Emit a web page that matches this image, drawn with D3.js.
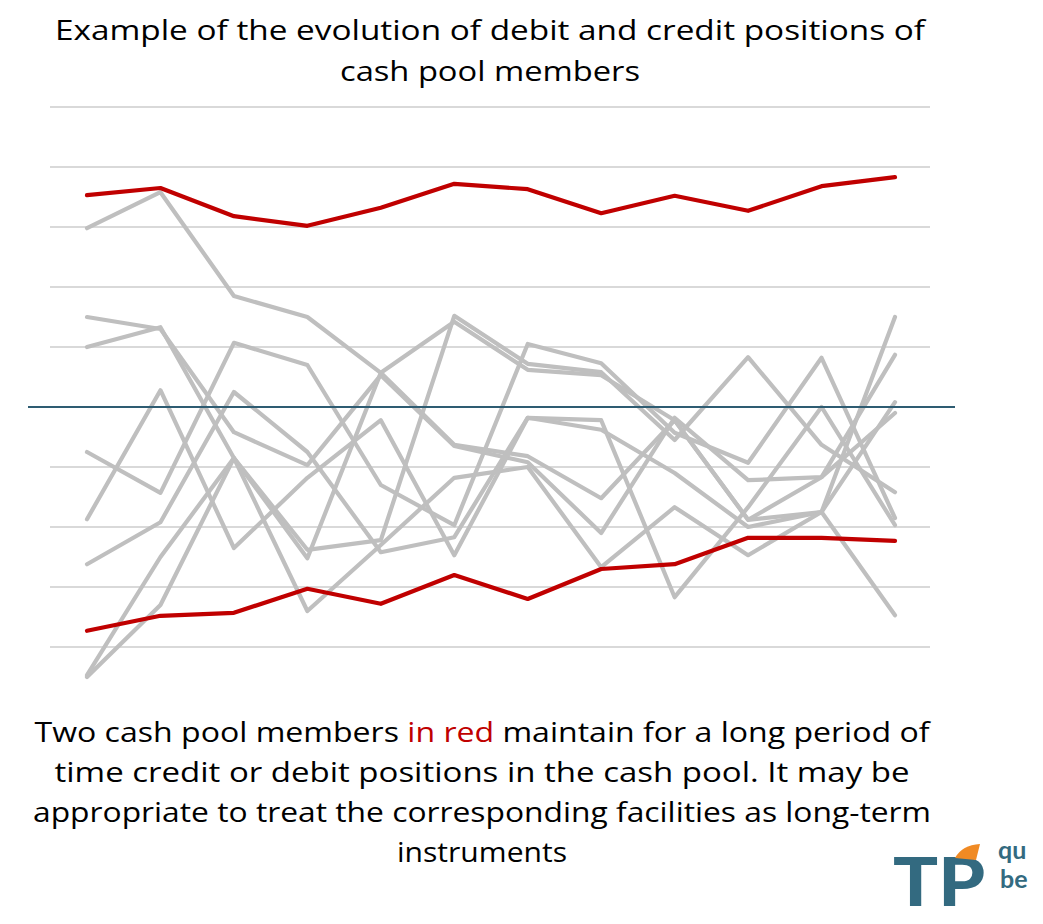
<!DOCTYPE html>
<html><head><meta charset="utf-8">
<script src="https://cdn.jsdelivr.net/npm/d3@7"></script>
<style>body{margin:0;background:#fff}</style></head>
<body><svg id="c" width="1043" height="924"></svg>
<script>
const periods = d3.range(1, 13);
const gridTicks = [-4,-3,-2,-1,1,2,3,4,5];
const redTop = [3.53,3.65,3.18,3.02,3.32,3.72,3.63,3.23,3.52,3.27,3.68,3.83];
const redBottom = [-3.73,-3.48,-3.43,-3.03,-3.28,-2.8,-3.2,-2.7,-2.62,-2.18,-2.18,-2.23];
const greyPx = [
 [228,192,296,317,373,445,456,498,420,520,512,402],
 [317,329,432,465,375,446,462,533,418,480,477,413],
 [347,327,458,550,540,316,364,372,440,357,445,492],
 [452,493,343,365,485,525,344,363,433,463,358,518],
 [519,390,548,478,420,555,418,420,597,507,407,525],
 [564,522,392,452,552,537,418,430,473,527,512,317],
 [675,557,458,558,373,322,370,375,420,520,477,355],
 [677,605,458,611,545,478,467,567,507,555,512,615]];
const greySeries = greyPx.map(r => r.map(p => +((407 - p) / 60).toFixed(2)));

const svg = d3.select('#c');
const x = d3.scalePoint().domain(periods).range([87, 895]);
const y = d3.scaleLinear().domain([-5, 5]).range([707, 107]);

svg.append('g').selectAll('line').data(gridTicks).join('line')
  .attr('x1', 50).attr('x2', 930).attr('y1', d => y(d)).attr('y2', d => y(d))
  .attr('stroke', '#d9d9d9').attr('stroke-width', 2);

const line = d3.line().x((d, i) => x(periods[i])).y(d => y(d));
svg.append('g').selectAll('path').data(greySeries).join('path')
  .attr('d', line).attr('fill', 'none').attr('stroke', '#bfbfbf')
  .attr('stroke-width', 4.2).attr('stroke-linejoin', 'round').attr('stroke-linecap','round');

svg.append('line').attr('x1', 28).attr('x2', 955).attr('y1', y(0)).attr('y2', y(0))
  .attr('stroke', '#2e5c72').attr('stroke-width', 2.2);

svg.append('g').selectAll('path').data([redTop, redBottom]).join('path')
  .attr('d', line).attr('fill', 'none').attr('stroke', '#c00000')
  .attr('stroke-width', 4.2).attr('stroke-linejoin', 'round').attr('stroke-linecap','round');

const F = '"Open Sans", sans-serif';
const title = [['Example of the evolution of debit and credit positions of', 870], ['cash pool members', 300]];
svg.append('g').selectAll('text').data(title).join('text')
  .attr('x', 490).attr('y', (d, i) => 40 + i * 41).attr('text-anchor', 'middle')
  .attr('font-family', F).attr('font-size', 28).attr('fill', '#000')
  .attr('textLength', d => d[1]).attr('lengthAdjust', 'spacingAndGlyphs').text(d => d[0]);

const body = [
  [[['Two cash pool members ', '#000'], ['in red', '#c00000'], [' maintain for a long period of', '#000']], 895],
  [[['time credit or debit positions in the cash pool. It may be', '#000']], 855],
  [[['appropriate to treat the corresponding facilities as long-term', '#000']], 898],
  [[['instruments', '#000']], 170]];
const bt = svg.append('g').selectAll('text').data(body).join('text')
  .attr('x', 482).attr('y', (d, i) => 742 + i * 40).attr('text-anchor', 'middle')
  .attr('font-family', F).attr('font-size', 28).attr('fill', '#000')
  .attr('textLength', d => d[1]).attr('lengthAdjust', 'spacingAndGlyphs');
bt.selectAll('tspan').data(d => d[0]).join('tspan').attr('fill', d => d[1]).text(d => d[0]);

const logo = svg.append('g');
logo.append('text').attr('x', 893).attr('y', 906).attr('font-family', 'Lato, sans-serif')
  .attr('font-weight', 900).attr('font-size', 66).attr('fill', '#336a80')
  .attr('textLength', 92).attr('lengthAdjust', 'spacingAndGlyphs').text('TP');
logo.append('path').attr('d', 'M955,858 Q962,845 980,844 L976,860 Z').attr('fill', '#f08a24');
logo.append('text').attr('x', 998).attr('y', 859).attr('font-family', 'Lato, sans-serif')
  .attr('font-weight', 700).attr('font-size', 25).attr('fill', '#336a80').text('qu');
logo.append('text').attr('x', 1000).attr('y', 888).attr('font-family', 'Lato, sans-serif')
  .attr('font-weight', 700).attr('font-size', 25).attr('fill', '#336a80').text('be');
</script></body></html>
